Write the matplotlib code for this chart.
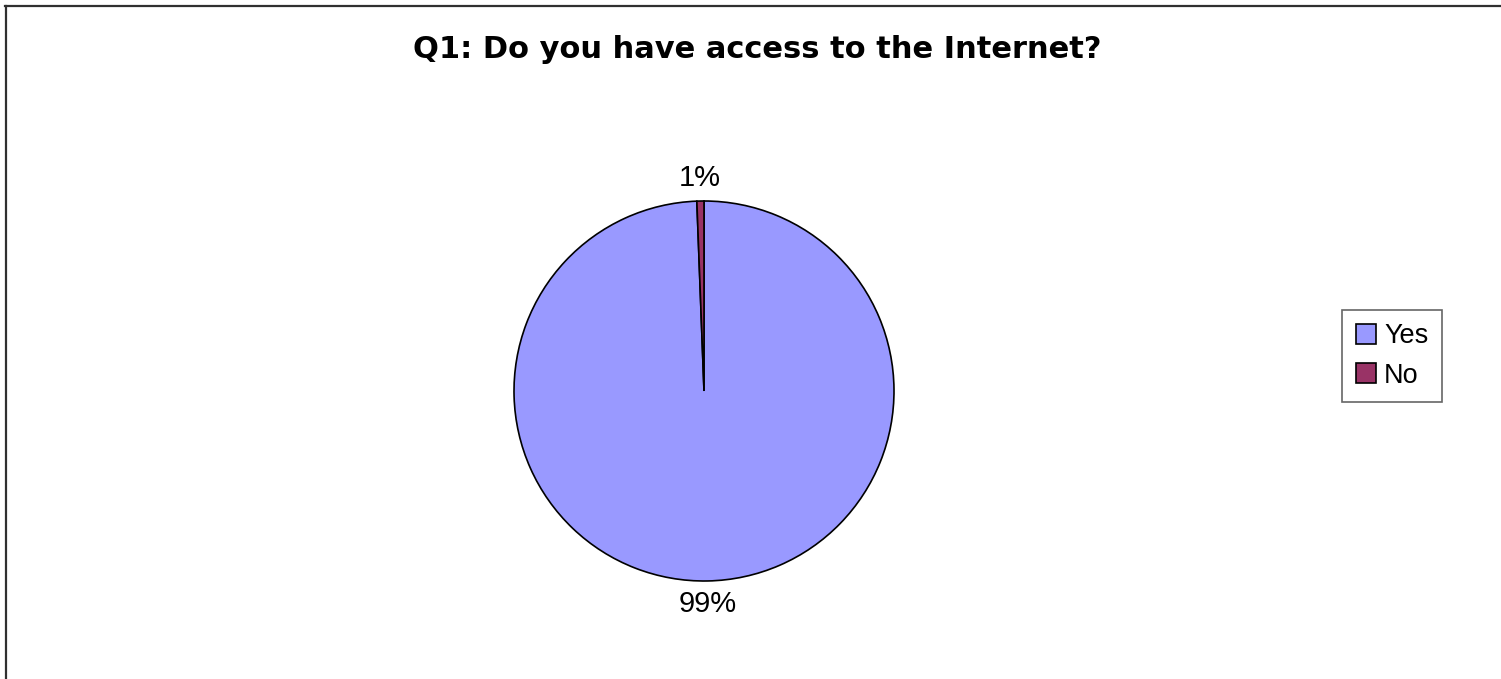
import matplotlib
matplotlib.use("Agg")
import matplotlib.pyplot as plt
from matplotlib.lines import Line2D
from matplotlib.patches import Patch

# survey answers (share of respondents)
labels = ["Yes", "No"]
values = [99.4, 0.6]
colors = ["#9999FF", "#993366"]
title = "Q1: Do you have access to the Internet?"

plt.rcParams['font.family'] = ['Liberation Sans', 'DejaVu Sans']

W, H = 1501, 679
fig = plt.figure(figsize=(W / 100, H / 100), dpi=100)
fig.patch.set_facecolor("white")

# pie axes: centre ~ (704, 391) px, radius ~190 px
cx, cy, r, k = 704, 391, 190, 1.25
side = 2 * r * k
ax = fig.add_axes([(cx - side / 2) / W, (H - cy - side / 2) / H, side / W, side / H])
wedges, texts, autotexts = ax.pie(
    values, colors=colors, startangle=90, counterclock=False,
    autopct="%.0f%%", pctdistance=1.12,
    wedgeprops=dict(edgecolor="black", linewidth=1.2),
    textprops=dict(fontsize=21, color="black"),
)
ax.set_xlim(-k, k)
ax.set_ylim(-k, k)
ax.set_aspect("equal")
ax.axis("off")

fig.text(757 / W, 1 - 58 / H, title, ha="center", va="baseline",
         fontsize=22, fontweight="bold", family=["DejaVu Sans"])

handles = [Patch(facecolor=c, edgecolor="black", linewidth=1.2) for c in colors]
leg = fig.legend(handles, labels, loc="center",
                 bbox_to_anchor=(1392 / W, 1 - 356 / H),
                 fontsize=19.5, frameon=True, fancybox=False,
                 edgecolor="#404040", handlelength=0.75, handleheight=0.75,
                 handletextpad=0.3, labelspacing=0.5, borderpad=0.5)
leg.get_frame().set_linewidth(1.2)

# chart area border (top and left edges visible)
fig.add_artist(Line2D([5 / W, 1], [1 - 5.5 / H, 1 - 5.5 / H], color="#303030", lw=1.6))
fig.add_artist(Line2D([5.5 / W, 5.5 / W], [0, 1 - 5.5 / H], color="#303030", lw=1.6))

fig.savefig("out.png", dpi=100, facecolor="white")
